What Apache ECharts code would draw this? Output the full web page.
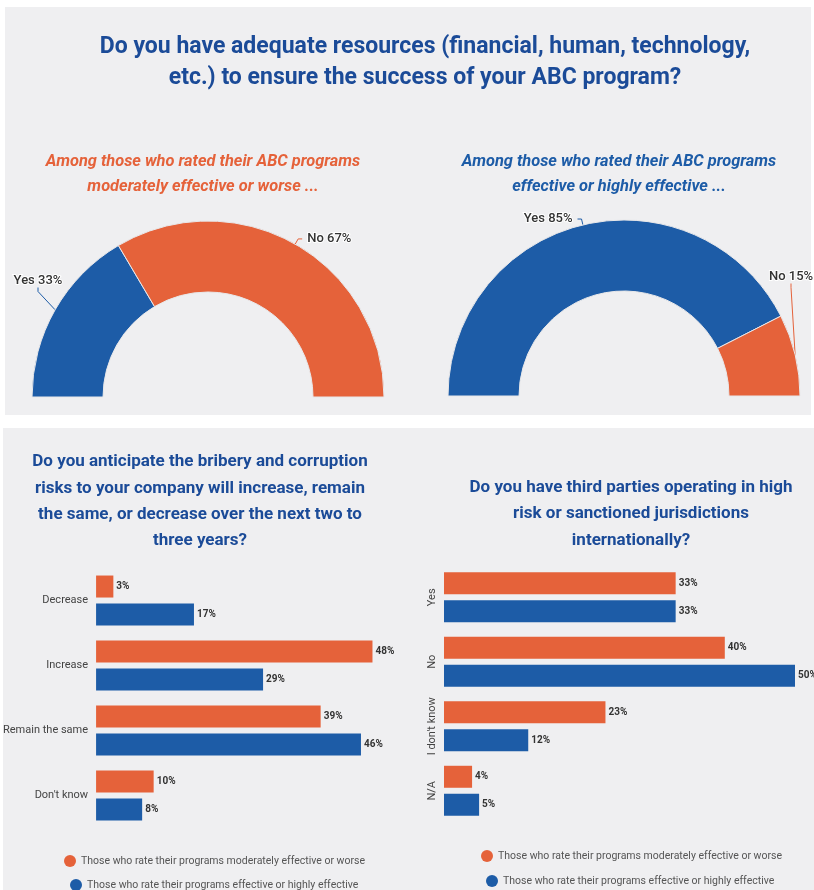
<!DOCTYPE html>
<html>
<head>
<meta charset="utf-8">
<script src="https://cdn.jsdelivr.net/npm/echarts@6/dist/echarts.min.js"></script>
<style>
  html, body { margin: 0; padding: 0; background: #fff; }
  #main { width: 814px; height: 890px; }
</style>
</head>
<body>
<div id="main"></div>
<script>
// 数据
const pieNames = ['Yes', 'No'];
const pieModerate = [33, 67];
const pieEffective = [85, 15];

const riskCats = ['Decrease', 'Increase', 'Remain the same', "Don't know"];
const riskModerate = [3, 48, 39, 10];
const riskEffective = [17, 29, 46, 8];

const thirdCats = ['Yes', 'No', "I don't know", 'N/A'];
const thirdModerate = [33, 40, 23, 4];
const thirdEffective = [33, 50, 12, 5];

const nameModerate = 'Those who rate their programs moderately effective or worse';
const nameEffective = 'Those who rate their programs effective or highly effective';

const ORANGE = '#e5623a';
const BLUE = '#1d5ca7';
const TITLE_BLUE = '#1b4b98';
const FONT = 'Roboto';

function pieData (values) {
  return pieNames.map((n, i) => ({
    name: n,
    value: values[i],
    itemStyle: { color: n === 'Yes' ? BLUE : ORANGE }
  }))
}

function barLabel () {
  return {
    show: true,
    position: 'right',
    distance: 3,
    formatter: '{c}%',
    fontSize: 10,
    fontWeight: 'bold',
    color: '#333',
    fontFamily: FONT
  }
}

function legendItem (name, left, top) {
  return {
    data: [name], left: left, top: top, icon: 'circle',
    itemWidth: 12, itemHeight: 12, selectedMode: false,
    textStyle: { fontSize: 10.5, color: '#555', fontFamily: FONT }
  }
}

let chart = echarts.init(document.getElementById('main'))

let option = {
  backgroundColor: '#fff',
  textStyle: { fontFamily: FONT },
  animation: false,
  graphic: [
    { type: 'rect', z: -10, shape: { x: 5, y: 7, width: 806, height: 408 }, style: { fill: '#efeff1' } },
    { type: 'rect', z: -10, shape: { x: 3, y: 428, width: 811, height: 462 }, style: { fill: '#efeff1' } }
  ],
  title: [
    {
      text: 'Do you have adequate resources (financial, human, technology,\netc.) to ensure the success of your ABC program?',
      left: 420, top: 27, textAlign: 'center',
      textStyle: { fontSize: 23, fontWeight: 'bold', color: TITLE_BLUE, lineHeight: 31, fontFamily: FONT }
    },
    {
      text: 'Among those who rated their ABC programs\nmoderately effective or worse ...',
      left: 198, top: 144, textAlign: 'center',
      textStyle: { fontSize: 16.4, fontWeight: 'bold', fontStyle: 'italic', color: ORANGE, lineHeight: 25, fontFamily: FONT }
    },
    {
      text: 'Among those who rated their ABC programs\neffective or highly effective ...',
      left: 614, top: 144, textAlign: 'center',
      textStyle: { fontSize: 16.4, fontWeight: 'bold', fontStyle: 'italic', color: BLUE, lineHeight: 25, fontFamily: FONT }
    },
    {
      text: 'Do you anticipate the bribery and corruption\nrisks to your company will increase, remain\nthe same, or decrease over the next two to\nthree years?',
      left: 195, top: 444, textAlign: 'center',
      textStyle: { fontSize: 17, fontWeight: 'bold', color: TITLE_BLUE, lineHeight: 26.3, fontFamily: FONT }
    },
    {
      text: 'Do you have third parties operating in high\nrisk or sanctioned jurisdictions\ninternationally?',
      left: 626, top: 469, textAlign: 'center',
      textStyle: { fontSize: 17, fontWeight: 'bold', color: TITLE_BLUE, lineHeight: 26.7, fontFamily: FONT }
    }
  ],
  legend: [
    legendItem(nameModerate, 59, 850),
    legendItem(nameEffective, 65, 874),
    legendItem(nameModerate, 476, 845),
    legendItem(nameEffective, 481, 870)
  ],
  grid: [
    { left: 96, top: 568, width: 288, height: 260 },
    { left: 444, top: 565, width: 351, height: 258 }
  ],
  xAxis: [
    { gridIndex: 0, type: 'value', min: 0, max: 50, show: false },
    { gridIndex: 1, type: 'value', min: 0, max: 50, show: false }
  ],
  yAxis: [
    {
      gridIndex: 0, type: 'category', data: riskCats, inverse: true,
      axisLine: { show: false }, axisTick: { show: false },
      axisLabel: { fontSize: 11, color: '#444', margin: 8, interval: 0 }
    },
    {
      gridIndex: 1, type: 'category', data: thirdCats, inverse: true,
      axisLine: { show: false }, axisTick: { show: false },
      axisLabel: { fontSize: 11, color: '#444', margin: 6, rotate: 90, interval: 0 }
    }
  ],
  series: [
    {
      type: 'pie',
      center: [208, 397],
      radius: [105, 176],
      startAngle: 180,
      endAngle: 360,
      data: pieData(pieModerate),
      itemStyle: { borderColor: '#e8e8ea', borderWidth: 1 },
      label: { formatter: '{b} {c}%', fontSize: 13, fontWeight: 500, fontFamily: FONT, overflow: 'none' },
      labelLine: { length: 6, length2: 4, lineStyle: { width: 1 } },
      labelLayout: function (params) {
        if (params.dataIndex === 0) {
          return { x: 38, y: 281, align: 'center', verticalAlign: 'middle' }
        }
        return {}
      }
    },
    {
      type: 'pie',
      center: [624, 396],
      radius: [105, 176],
      startAngle: 180,
      endAngle: 360,
      data: pieData(pieEffective),
      itemStyle: { borderColor: '#e8e8ea', borderWidth: 1 },
      label: { formatter: '{b} {c}%', fontSize: 13, fontWeight: 500, fontFamily: FONT, overflow: 'none' },
      labelLine: { length: 6, length2: 4, lineStyle: { width: 1 } },
      labelLayout: function (params) {
        if (params.dataIndex === 1) {
          return { x: 791, y: 277, align: 'center', verticalAlign: 'middle' }
        }
        return {}
      }
    },
    {
      name: nameModerate, type: 'bar', xAxisIndex: 0, yAxisIndex: 0,
      data: riskModerate, barWidth: 22, barGap: '27%',
      itemStyle: { color: ORANGE }, label: barLabel()
    },
    {
      name: nameEffective, type: 'bar', xAxisIndex: 0, yAxisIndex: 0,
      data: riskEffective, barWidth: 22, barGap: '27%',
      itemStyle: { color: BLUE }, label: barLabel()
    },
    {
      name: nameModerate, type: 'bar', xAxisIndex: 1, yAxisIndex: 1,
      data: thirdModerate, barWidth: 22, barGap: '27%',
      itemStyle: { color: ORANGE }, label: barLabel()
    },
    {
      name: nameEffective, type: 'bar', xAxisIndex: 1, yAxisIndex: 1,
      data: thirdEffective, barWidth: 22, barGap: '27%',
      itemStyle: { color: BLUE }, label: barLabel()
    }
  ]
}

chart.setOption(option)
</script>
</body>
</html>
